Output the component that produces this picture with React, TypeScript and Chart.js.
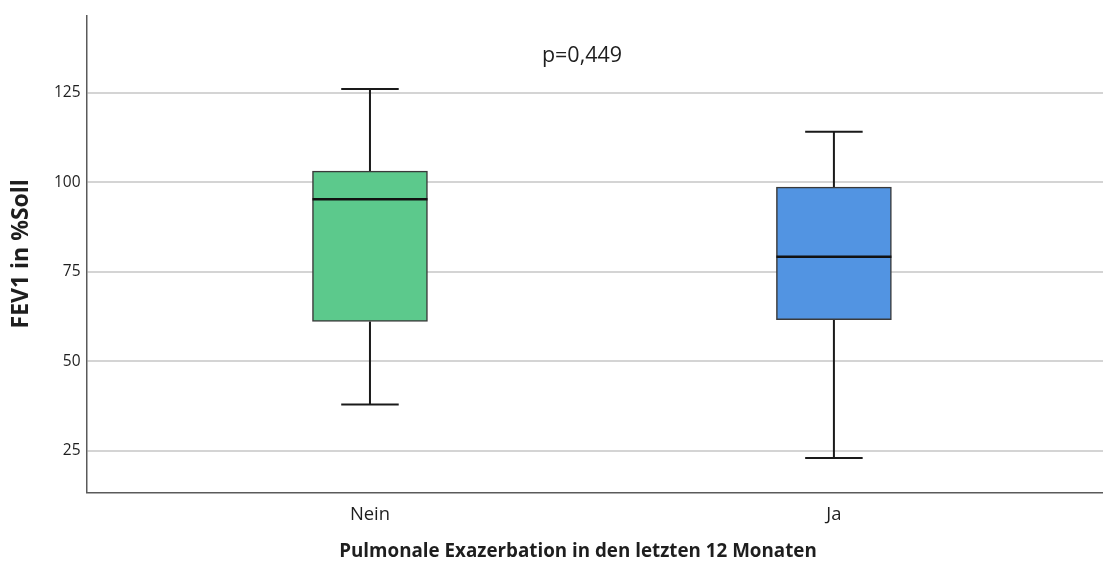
import React, { useEffect, useRef } from 'react';
import { Chart, registerables } from 'chart.js';

Chart.register(...registerables);

const categories = ['Nein', 'Ja'];
const whiskerLow = [37.9, 23.0];
const q1 = [61.1, 61.6];
const median = [95.2, 79.2];
const q3 = [103.1, 98.6];
const whiskerHigh = [126.0, 114.1];
const yTicks = [25, 50, 75, 100, 125];
const boxColors = ['#5cc98c', '#5294e2'];
const pText = 'p=0,449';
const xTitle = 'Pulmonale Exazerbation in den letzten 12 Monaten';
const yTitle = 'FEV1 in %Soll';

const FONT = '"Open Sans", "DejaVu Sans", sans-serif';
const TEXT = '#1e1e1e';

const boxPlugin = {
  id: 'boxExtras',
  beforeDatasetsDraw(chart: any) {
    const ctx = chart.ctx;
    const y = chart.scales.y;
    const meta = chart.getDatasetMeta(0);
    ctx.save();
    ctx.strokeStyle = '#1a1a1a';
    ctx.lineWidth = 2;
    meta.data.forEach((bar: any, i: number) => {
      const cx = bar.x;
      const half = bar.width / 4;
      const yLo = y.getPixelForValue(whiskerLow[i]);
      const yHi = y.getPixelForValue(whiskerHigh[i]);
      const yQ1 = y.getPixelForValue(q1[i]);
      const yQ3 = y.getPixelForValue(q3[i]);
      ctx.beginPath();
      ctx.moveTo(cx, yHi);
      ctx.lineTo(cx, yQ3);
      ctx.moveTo(cx, yQ1);
      ctx.lineTo(cx, yLo);
      ctx.moveTo(cx - half, yHi);
      ctx.lineTo(cx + half, yHi);
      ctx.moveTo(cx - half, yLo);
      ctx.lineTo(cx + half, yLo);
      ctx.stroke();
    });
    ctx.restore();
  },
  afterDatasetsDraw(chart: any) {
    const ctx = chart.ctx;
    const y = chart.scales.y;
    const meta = chart.getDatasetMeta(0);
    ctx.save();
    ctx.strokeStyle = '#111111';
    ctx.lineWidth = 2.5;
    meta.data.forEach((bar: any, i: number) => {
      const half = bar.width / 2;
      const ym = y.getPixelForValue(median[i]);
      ctx.beginPath();
      ctx.moveTo(bar.x - half, ym);
      ctx.lineTo(bar.x + half, ym);
      ctx.stroke();
    });
    ctx.restore();
  },
  afterDraw(chart: any) {
    const ctx = chart.ctx;
    const area = chart.chartArea;
    ctx.save();
    ctx.fillStyle = TEXT;
    ctx.textAlign = 'center';
    ctx.textBaseline = 'middle';
    ctx.font = `21.5px ${FONT}`;
    ctx.fillText(pText, 582, 56);
    ctx.font = `bold 18.8px ${FONT}`;
    ctx.fillText(xTitle, 578, 551.5);
    ctx.translate(21.5, (area.top + area.bottom) / 2);
    ctx.rotate(-Math.PI / 2);
    ctx.font = `bold 23px ${FONT}`;
    ctx.fillText(yTitle, 0, 0);
    ctx.restore();
  },
};

export default function App() {
  const ref = useRef<HTMLCanvasElement | null>(null);

  useEffect(() => {
    if (!ref.current) return;
    const chart = new Chart(ref.current, {
      type: 'bar',
      data: {
        datasets: [
          {
            data: categories.map((c, i) => ({ x: i + 1, y: [q1[i], q3[i]] })) as any,
            backgroundColor: boxColors,
            borderColor: '#3a3a3a',
            borderWidth: 1.5,
            borderSkipped: false,
            barThickness: 115,
          } as any,
        ],
      },
      options: {
        animation: false,
        responsive: false,
        maintainAspectRatio: false,
        layout: { padding: { top: 15.3, left: 0, right: 0, bottom: 0 } },
        plugins: {
          legend: { display: false },
          tooltip: { enabled: false },
        },
        scales: {
          x: {
            type: 'linear',
            min: 0.389,
            max: 2.58,
            offset: false,
            afterBuildTicks: (s: any) => {
              s.ticks = categories.map((_, i) => ({ value: i + 1 }));
            },
            afterFit: (s: any) => {
              s.height = 69.7;
            },
            ticks: {
              autoSkip: false,
              maxRotation: 0,
              padding: 11,
              color: TEXT,
              font: { family: FONT, size: 18.4 },
              callback: (v: any) => categories[Math.round(Number(v)) - 1] ?? '',
            },
            grid: { drawOnChartArea: false, drawTicks: false, offset: false },
            border: { display: true, color: '#5a5a5a', width: 1.5 },
          },
          y: {
            type: 'linear',
            min: 13.4,
            max: 146.6,
            beginAtZero: false,
            afterBuildTicks: (s: any) => {
              s.ticks = yTicks.map((v) => ({ value: v }));
            },
            afterFit: (s: any) => {
              s.width = 86.5;
            },
            ticks: {
              padding: 6,
              color: TEXT,
              font: { family: FONT, size: 15.5 },
            },
            grid: { color: '#d4d4d4', lineWidth: 2, drawTicks: false },
            border: { display: true, color: '#5a5a5a', width: 1.5 },
          },
        },
      } as any,
      plugins: [boxPlugin],
    });
    return () => chart.destroy();
  }, []);

  return (
    <div style={{ position: 'fixed', left: 0, top: 0, width: 1103, height: 562, background: '#fff' }}>
      <canvas ref={ref} width={1103} height={562} style={{ display: 'block' }} />
    </div>
  );
}
